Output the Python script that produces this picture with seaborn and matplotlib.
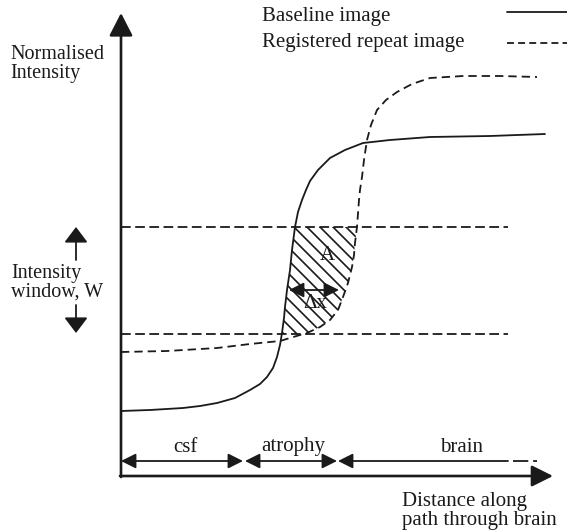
import matplotlib
matplotlib.use('Agg')
import matplotlib.pyplot as plt
import numpy as np
import seaborn as sns
from matplotlib.patches import ArrowStyle

# Curve shapes (figure pixel coordinates, y downwards)
baseline_x = [121, 150, 183, 200, 217, 235, 250, 260, 267, 273, 277, 280, 282, 284, 285, 287,
              290, 292, 295, 298, 302, 306, 310, 318, 330, 345, 363, 390, 430, 490, 545]
baseline_y = [411, 410, 408, 406, 403, 398, 390, 384, 377, 368, 357, 345, 333, 318, 307, 290,
              270, 250, 227, 212, 200, 190, 181, 170, 158, 150, 143, 140, 137, 136, 134]

repeat_x = [121, 167, 217, 250, 280, 300, 307, 320, 330, 338, 343, 348, 352, 354, 355, 357,
            359, 360, 362, 364, 367, 371, 377, 386, 397, 412, 430, 463, 500, 537]
repeat_y = [352, 351, 348, 344, 341, 335, 333, 327, 320, 310, 297, 283, 267, 255, 243, 227,
            200, 190, 177, 160, 140, 125, 110, 100, 92, 84, 78, 76, 76, 77]

window_levels = [227, 334]
region_labels = ['csf', 'atrophy', 'brain']
region_bounds = [(121, 243), (245, 337), (338, 508)]

INK = '#1a1a1a'

sns.set_theme(style='white')
plt.rcParams['font.family'] = ['Liberation Serif', 'DejaVu Serif']
plt.rcParams['lines.scale_dashes'] = False

fig = plt.figure(figsize=(5.67, 5.30), dpi=100)
ax = fig.add_axes([0, 0, 1, 1])

# Profiles
sns.lineplot(x=baseline_x, y=baseline_y, sort=False, estimator=None, color=INK,
             linewidth=1.3, ax=ax)
sns.lineplot(x=repeat_x, y=repeat_y, sort=False, estimator=None, color=INK,
             linewidth=1.3, linestyle=(0, (6, 3.6)), ax=ax)

ax.set_xlim(0, 567)
ax.set_ylim(530, 0)
ax.axis('off')

# Intensity window lines
for lvl in window_levels:
    ax.plot([121, 508], [lvl, lvl], color=INK, lw=1.3, ls=(0, (7, 3.2)))

# Hatched area between the two profiles inside the window
yy = np.linspace(window_levels[0], window_levels[1], 200)
bx = np.interp(yy, baseline_y[::-1], baseline_x[::-1])
rx_mask = [i for i in range(len(repeat_y)) if 200 <= repeat_y[i] <= 345]
ry = np.array(repeat_y)[rx_mask][::-1]
rxx = np.array(repeat_x)[rx_mask][::-1]
dx = np.interp(yy, ry, rxx)
poly = ax.fill_betweenx(yy, bx, dx, facecolor='none', edgecolor='none', linewidth=0)
clip = poly.get_paths()[0]
for c in np.arange(150, 380, 13):
    ln, = ax.plot([c, c + 150], [200, 350], color=INK, lw=1.2)
    ln.set_clip_path(clip, ax.transData)


def arrow(tail, tip, style='-|>', hl=9.0, hw=3.6, lw=1.3):
    ax.annotate('', xy=tip, xytext=tail, xycoords='data',
                arrowprops=dict(arrowstyle=ArrowStyle(style, head_length=hl, head_width=hw),
                                mutation_scale=1, shrinkA=0, shrinkB=0,
                                color=INK, lw=lw))


# Axes arrows
arrow((121, 477), (121, 13), hl=14, hw=7.2, lw=1.9)
arrow((120, 476), (553, 476), hl=13, hw=6.5, lw=1.9)

# Region arrows along the path
for (a, b), lab in zip(region_bounds, region_labels):
    style = '<|-|>' if lab != 'brain' else '<|-'
    arrow((a, 461), (b, 461), style=style, hl=9, hw=4.5, lw=1.3)
ax.plot([513, 537], [461, 461], color=INK, lw=1.3, ls=(0, (11, 3.5)))
ax.text(185, 447, region_labels[0], ha='center', va='center', fontsize=15, color=INK)
ax.text(293, 447, region_labels[1], ha='center', va='center', fontsize=15, color=INK)
ax.text(462, 447, region_labels[2], ha='center', va='center', fontsize=15, color=INK)

# Delta x arrow and labels
arrow((289, 290), (339, 290), style='<|-|>', hl=9, hw=4.5, lw=1.3)
ax.text(315, 303, 'Δx', ha='center', va='center', fontsize=15, color=INK)
ax.text(327, 255, 'A', ha='center', va='center', fontsize=15, color=INK)

# Intensity window arrows
arrow((76, 260), (76, 227), hl=9.5, hw=7.2, lw=1.3)
arrow((76, 305), (76, 333), hl=9.5, hw=7.2, lw=1.3)

# Text labels
ax.text(10, 64, 'Normalised\nIntensity', ha='left', va='center', fontsize=14.5,
        linespacing=1.0, color=INK)
ax.text(11, 283, 'Intensity\nwindow, W', ha='left', va='center', fontsize=14.5,
        linespacing=1.0, color=INK)
ax.text(402, 511, 'Distance along\npath through brain', ha='left', va='center',
        fontsize=15, linespacing=1.0, color=INK)

# Legend
ax.text(262, 17, 'Baseline image', ha='left', va='center', fontsize=15, color=INK)
ax.text(262, 43, 'Registered repeat image', ha='left', va='center', fontsize=15, color=INK)
ax.plot([507, 567], [12, 12], color=INK, lw=1.3)
ax.plot([507, 567], [43, 43], color=INK, lw=1.3, ls=(0, (5, 3)))

fig.savefig('out.png', dpi=100)
